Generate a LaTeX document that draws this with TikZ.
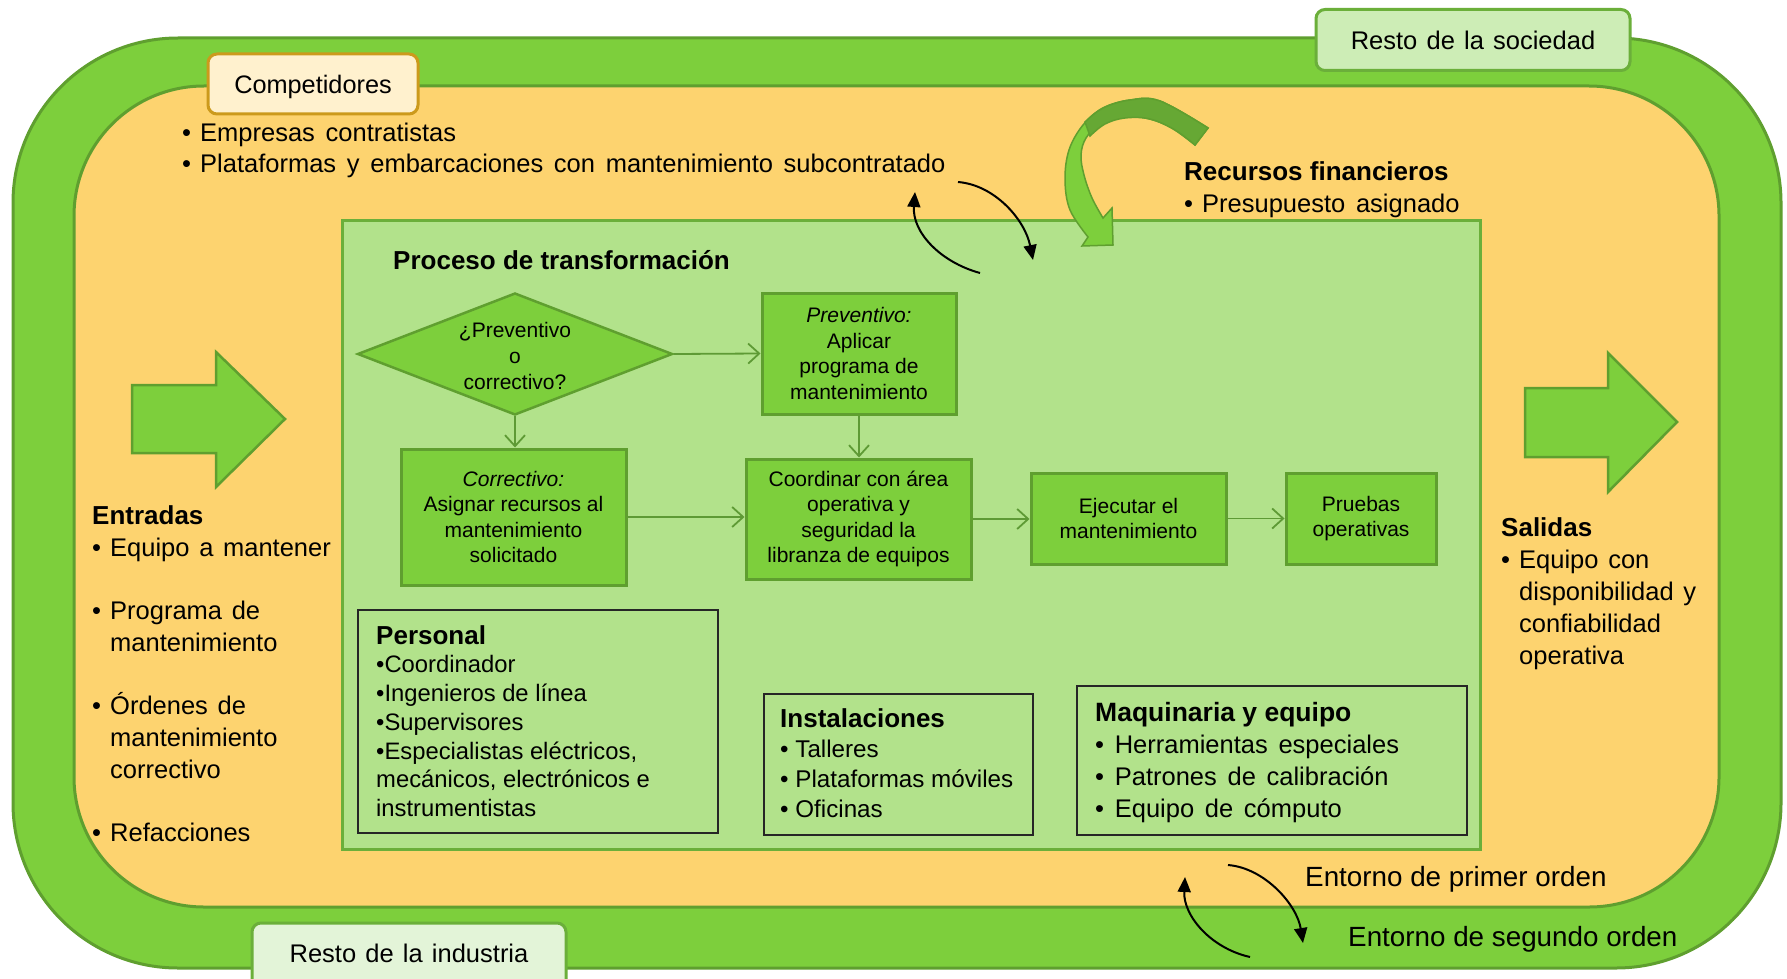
\documentclass[tikz,border=0pt]{standalone}
\usepackage{fontspec}
\setmainfont{Liberation Sans}
\usetikzlibrary{arrows.meta,shapes.geometric}

\definecolor{leafGreen}{HTML}{7DCF3C}
\definecolor{leafEdge}{HTML}{5F9F2F}
\definecolor{procEdge}{HTML}{6BAF3A}
\definecolor{sand}{HTML}{FDD36F}
\definecolor{paleLeaf}{HTML}{B2E28B}
\definecolor{cream}{HTML}{FFF1CE}
\definecolor{gold}{HTML}{CC9A1C}
\definecolor{mint}{HTML}{CDEDB6}
\definecolor{mistGreen}{HTML}{E3F4D8}
\definecolor{deepLeaf}{HTML}{66A834}
\definecolor{flowLine}{HTML}{5E9A35}

\newcommand\fsz[2]{\fontsize{#1}{#2}\selectfont}
\newcommand\widesp[1]{\spaceskip=#1em plus 0.1em minus 0.05em\relax}
\newcommand\bul[1][18pt]{\makebox[#1][l]{•}}
\newcommand\ind[1][18pt]{\hspace*{#1}}

\tikzset{
  stepbox/.style={draw=leafEdge, fill=leafGreen, line width=3pt, align=center,
    inner sep=0pt, font=\fsz{21}{25.6}},
  flow/.style={draw=flowLine, line width=1.8pt, -{Straight Barb[length=11pt,width=20pt]}},
  infobox/.style={draw=black!85, line width=1.6pt, inner sep=0pt},
  tagbox/.style={line width=3pt, rounded corners=9pt, inner sep=0pt},
  swirl/.style={draw=black, line width=2pt, -{Triangle[length=15pt,width=13pt]}},
  blockarrow/.style={fill=leafGreen, draw=leafEdge, line width=2.5pt},
  txt/.style={anchor=west, align=left, inner sep=0pt},
}

\begin{document}
\begin{tikzpicture}[x=1pt,y=-1pt]
\useasboundingbox (0,0) rectangle (1787,979);
\clip (0,0) rectangle (1787,979);
\fill[white] (0,0) rectangle (1787,979);

% environment bands
\node[draw=leafEdge, fill=leafGreen, line width=3pt, rounded corners=165pt,
  minimum width=1768pt, minimum height=930pt, inner sep=0pt] (outer) at (897,503) {};
\node[draw=leafEdge, fill=sand, line width=3pt, rounded corners=130pt,
  minimum width=1645pt, minimum height=821pt, inner sep=0pt] (inner) at (896.5,496.5) {};

% transformation process area
\node[draw=procEdge, fill=paleLeaf, line width=3pt, minimum width=1138pt,
  minimum height=629pt, inner sep=0pt] (proc) at (911,534.5) {};
\node[txt, font=\fsz{26}{26}\bfseries] (proctitle) at (393,260) {Proceso de transformación};

% input and output block arrows
\draw[blockarrow] (132,385) -- (216,385) -- (216,352) -- (285,419) -- (216,487)
  -- (216,453) -- (132,453) -- cycle;
\draw[blockarrow] (1525,388) -- (1608,388) -- (1608,353) -- (1677,422) -- (1608,492)
  -- (1608,457) -- (1525,457) -- cycle;

% flowchart
\node[diamond, draw=leafEdge, fill=leafGreen, line width=2.5pt, minimum width=315pt,
  minimum height=122pt, inner sep=0pt] (dia) at (515,354) {};
\node[align=center, inner sep=0pt, font=\fsz{21}{25.6}] (dialabel) at (515,356)
  {¿Preventivo\\o\\correctivo?};
\node[stepbox, minimum width=194pt, minimum height=121pt] (prev) at (859,353.5)
  {\textit{Preventivo:}\\Aplicar\\programa de\\mantenimiento};
\node[stepbox, minimum width=225pt, minimum height=136pt] (corr) at (513.5,517)
  {\textit{Correctivo:}\\Asignar recursos al\\mantenimiento\\solicitado};
\node[stepbox, minimum width=225pt, minimum height=120pt] (coord) at (858.5,519)
  {Coordinar con área\\operativa y\\seguridad la\\libranza de equipos};
\node[stepbox, minimum width=195pt, minimum height=91pt] (ejec) at (1128.5,518.5)
  {Ejecutar el\\mantenimiento};
\node[stepbox, minimum width=150pt, minimum height=91pt] (prue) at (1361,518.5)
  {Pruebas\\operativas};

\draw[flow] (dia.east) -- (prev.west);
\draw[flow] (dia.south) -- (dia.south |- corr.north);
\draw[flow] (prev.south) -- (prev.south |- coord.north);
\draw[flow] (corr.east) -- (corr.east -| coord.west);
\draw[flow] (coord.east) -- (coord.east -| ejec.west);
\draw[flow] (ejec.east) -- (ejec.east -| prue.west);

% resource boxes
\node[infobox, minimum width=360pt, minimum height=223pt] (pers) at (538,721.5) {};
\node[txt, font=\fsz{23.8}{28.7}] (perslabel) at (376,721)
  {{\fsz{26}{28.7}\bfseries Personal}\\•Coordinador\\•Ingenieros de línea\\•Supervisores\\•Especialistas eléctricos,\\mecánicos, electrónicos e\\instrumentistas};
\node[infobox, minimum width=269pt, minimum height=141pt] (inst) at (898.5,764.5) {};
\node[txt, font=\fsz{24.2}{30}] (instlabel) at (780,763)
  {{\fsz{26}{30}\bfseries Instalaciones}\\• Talleres\\• Plataformas móviles\\• Oficinas};
\node[infobox, minimum width=390pt, minimum height=149pt] (maq) at (1272,760.5) {};
\node[txt, font=\fsz{25.5}{32}\widesp{0.42}] (maqlabel) at (1095,762.5)
  {{\fsz{26.5}{32}\bfseries\spaceskip=0pt Maquinaria y equipo}\\• Herramientas especiales\\• Patrones de calibración\\• Equipo de cómputo};

% inputs, outputs, competitors, finance
\node[txt, font=\fsz{25.5}{32}\widesp{0.38}] (inputs) at (92,674)
  {{\fsz{26}{32}\bfseries Entradas}\\\bul Equipo a mantener\\[31pt]\bul Programa de\\\ind mantenimiento\\[31pt]\bul Órdenes de\\\ind mantenimiento\\\ind correctivo\\[31pt]\bul Refacciones};
\node[txt, font=\fsz{25.5}{32}\widesp{0.38}] (outputs) at (1501,594)
  {{\fsz{26}{32}\bfseries Salidas}\\\bul[18pt]Equipo con\\\ind[18pt]disponibilidad y\\\ind[18pt]confiabilidad\\\ind[18pt]operativa};
\node[txt, font=\fsz{25.5}{31}\widesp{0.42}] (complist) at (182,150)
  {\bul[18pt]Empresas contratistas\\\bul[18pt]Plataformas y embarcaciones con mantenimiento subcontratado};
\node[txt, font=\fsz{25.5}{32}\widesp{0.42}] (finance) at (1184,189.5)
  {{\fsz{26}{32}\bfseries\spaceskip=0pt Recursos financieros}\\\bul[18pt]Presupuesto asignado};

% curved financing arrow
\path[fill=leafGreen, draw=leafEdge, line width=1.5pt]
  plot[smooth, tension=0.6] coordinates {(1208,128) (1160,101) (1130,100) (1103,108)
    (1083,125) (1069,150) (1065,180) (1070,210) (1088,237)}
  -- (1082,246) -- (1113,245) -- (1112,208)
  -- plot[smooth, tension=0.6] coordinates {(1103,218) (1092,198) (1084,175) (1081,155)
    (1086,138) (1100,124) (1120,117) (1145,118) (1170,127) (1195,145)}
  -- cycle;
\path[fill=deepLeaf, draw=leafEdge, line width=1.5pt]
  plot[smooth, tension=0.6] coordinates {(1208,128) (1160,101) (1130,100) (1103,108) (1085,122)}
  -- plot[smooth, tension=0.6] coordinates {(1090,136) (1105,124) (1125,118) (1150,119)
    (1175,130) (1195,145)}
  -- cycle;

% exchange arrows between the environments
\coordinate (s1a) at (980,273);  \coordinate (s1b) at (915,192);
\coordinate (s2a) at (958,182);  \coordinate (s2b) at (1033,260);
\coordinate (s3a) at (1250,957); \coordinate (s3b) at (1185,877);
\coordinate (s4a) at (1228,865); \coordinate (s4b) at (1303,943);
\draw[swirl] (s1a) .. controls (940,262) and (912,232) .. (s1b);
\draw[swirl] (s2a) .. controls (995,185) and (1025,220) .. (s2b);
\draw[swirl] (s3a) .. controls (1210,948) and (1183,915) .. (s3b);
\draw[swirl] (s4a) .. controls (1265,868) and (1297,905) .. (s4b);

\node[txt, font=\fsz{27.8}{28}] (env1) at (1305,879) {Entorno de primer orden};
\node[txt, font=\fsz{27.8}{28}] (env2) at (1348,939) {Entorno de segundo orden};

% environment tags
\node[tagbox, draw=gold, fill=cream, minimum width=210pt, minimum height=60pt] (comp)
  at (313,84) {};
\node[inner sep=0pt, font=\fsz{25.3}{26}] (complabel) at (313,87) {Competidores};
\node[tagbox, draw=procEdge, fill=mint, minimum width=314pt, minimum height=61pt,
  font=\fsz{25.5}{26}\widesp{0.36}] (soc) at (1473,40) {Resto de la sociedad};
\node[tagbox, draw=procEdge, fill=mistGreen, minimum width=314pt, minimum height=70pt] (ind)
  at (409,958) {};
\node[inner sep=0pt, font=\fsz{25.5}{26}\widesp{0.36}] (indlabel) at (409,953) {Resto de la industria};
\end{tikzpicture}
\end{document}
